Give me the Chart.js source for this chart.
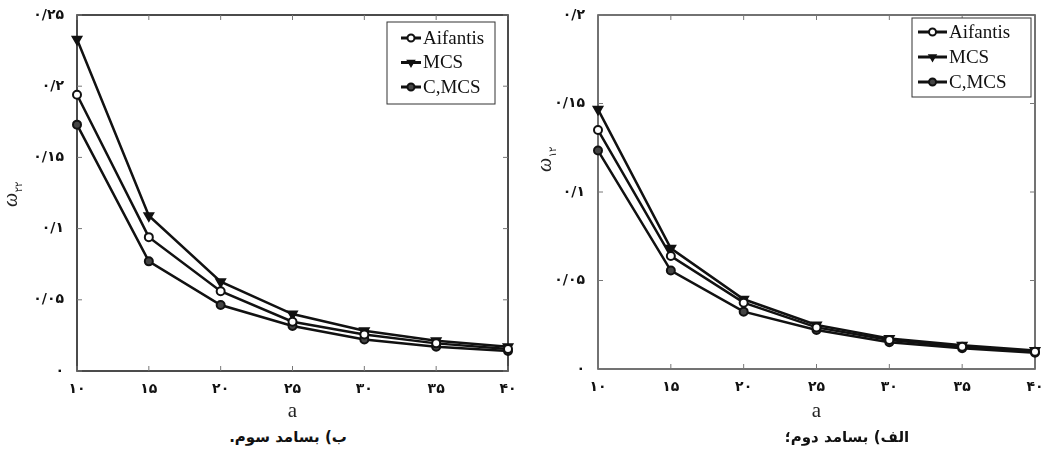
<!DOCTYPE html>
<html>
<head>
<meta charset="utf-8">
<script src="https://cdn.jsdelivr.net/npm/chart.js@4.4.0/dist/chart.umd.min.js"></script>
<style>
body { margin: 0; background: #fff; width: 1064px; height: 453px; position: relative; overflow: hidden; }
.box { position: absolute; top: 0; height: 425px; }
.cap { position: absolute; top: 428px; width: 200px; text-align: center; direction: rtl;
       font: bold 15px 'DejaVu Sans', sans-serif; color: #111; }
</style>
</head>
<body>
<div class="box" style="left:0;width:540px"><canvas id="chart22"></canvas></div>
<div class="box" style="left:530px;width:534px"><canvas id="chart12"></canvas></div>
<div class="cap" style="left:188px">ب) بسامد سوم.</div>
<div class="cap" style="left:747px">الف) بسامد دوم؛</div>
<script>
// length a on the x axis
const aValues = [10, 15, 20, 25, 30, 35, 40];
const seriesNames = ['Aifantis', 'MCS', 'C,MCS'];

// third frequency, w22 (left)
const w22Aifantis = [0.194, 0.094, 0.056, 0.0346, 0.0257, 0.0194, 0.0155];
const w22MCS = [0.233, 0.109, 0.0627, 0.040, 0.0283, 0.0213, 0.0171];
const w22CMCS = [0.173, 0.077, 0.0463, 0.0316, 0.0222, 0.0171, 0.014];

// second frequency, w12 (right)
const w12Aifantis = [0.135, 0.0638, 0.0375, 0.0235, 0.0164, 0.0126, 0.0098];
const w12MCS = [0.1467, 0.0682, 0.0394, 0.0249, 0.0173, 0.0134, 0.0104];
const w12CMCS = [0.1234, 0.0556, 0.0324, 0.022, 0.0151, 0.0117, 0.0092];

const yMax22 = 0.25;
const yMax12 = 0.2;
const yStep = 0.05;
const xStep = 5;

const faDigits = '۰۱۲۳۴۵۶۷۸۹';
function fa(v) {
    return String(+v.toFixed(2)).replace(/\d/g, d => faDigits[d]).replace('.', '/');
}

const styles = [
    { pointStyle: 'circle', rotation: 0, fill: '#fff', radius: 4 },
    { pointStyle: 'triangle', rotation: 180, fill: '#111', radius: 5 },
    { pointStyle: 'circle', rotation: 0, fill: '#444', radius: 4 }
];

function makeSets(arrays) {
    return arrays.map((vals, i) => ({
        label: seriesNames[i],
        data: aValues.map((a, j) => ({ x: a, y: vals[j] })),
        borderColor: '#111',
        borderWidth: 2.5,
        pointStyle: styles[i].pointStyle,
        pointRotation: styles[i].rotation,
        pointRadius: styles[i].radius,
        pointBackgroundColor: styles[i].fill,
        pointBorderColor: '#111',
        pointBorderWidth: 2,
        tension: 0,
        clip: false
    }));
}

// frame + inward ticks
const framePlugin = {
    id: 'frame',
    beforeDatasetsDraw(chart, args, opts) {
        const { ctx, chartArea: ca, scales: { x, y } } = chart;
        ctx.save();
        ctx.strokeStyle = opts.color;
        ctx.lineWidth = 1.5;
        ctx.strokeRect(ca.left, ca.top, ca.right - ca.left, ca.bottom - ca.top);
        ctx.lineWidth = 1;
        ctx.strokeStyle = '#777';
        ctx.beginPath();
        y.ticks.forEach(t => {
            const py = y.getPixelForValue(t.value);
            ctx.moveTo(ca.left, py); ctx.lineTo(ca.left + 5, py);
            ctx.moveTo(ca.right, py); ctx.lineTo(ca.right - 5, py);
        });
        x.ticks.forEach(t => {
            const px = x.getPixelForValue(t.value);
            ctx.moveTo(px, ca.bottom); ctx.lineTo(px, ca.bottom - 5);
            ctx.moveTo(px, ca.top); ctx.lineTo(px, ca.top + 5);
        });
        ctx.stroke();
        ctx.restore();
    },
    afterDraw(chart, args, opts) {
        const { ctx, chartArea: ca } = chart;
        ctx.save();
        // y title: omega with persian subscript
        ctx.translate(opts.titleX, opts.titleY);
        ctx.rotate(-Math.PI / 2);
        ctx.fillStyle = '#222';
        ctx.textAlign = 'center';
        ctx.textBaseline = 'middle';
        ctx.font = 'italic 20px "Liberation Serif"';
        ctx.fillText('ω', 0, 0);
        ctx.font = '10px "DejaVu Sans"';
        ctx.fillText(opts.sub, 13, 7);
        ctx.restore();

        // legend box
        const lg = opts.legend;
        const bx = ca.right - lg.right - lg.w;
        const by = ca.top + lg.top;
        ctx.save();
        ctx.fillStyle = '#fff';
        ctx.fillRect(bx, by, lg.w, lg.h);
        ctx.strokeStyle = '#333';
        ctx.lineWidth = 1;
        ctx.strokeRect(bx, by, lg.w, lg.h);
        chart.data.datasets.forEach((ds, i) => {
            const ry = by + lg.first + i * lg.gap;
            const lx = bx + lg.pad;
            ctx.strokeStyle = '#111';
            ctx.lineWidth = 3;
            ctx.beginPath();
            ctx.moveTo(lx, ry); ctx.lineTo(lx + lg.len, ry);
            ctx.stroke();
            ctx.fillStyle = styles[i].fill;
            ctx.lineWidth = 2;
            Chart.helpers.drawPoint(ctx, {
                pointStyle: styles[i].pointStyle, rotation: styles[i].rotation,
                radius: 3.5, borderWidth: 2
            }, lx + lg.len / 2, ry);
            ctx.fillStyle = '#111';
            ctx.font = lg.font + 'px "Liberation Serif"';
            ctx.textAlign = 'left';
            ctx.textBaseline = 'middle';
            ctx.fillText(ds.label, lx + lg.len + 2, ry + 1);
        });
        ctx.restore();
    }
};

function buildChart(id, arrays, yMax, yWidth, padRight, frameOpts) {
    const ctx = document.getElementById(id).getContext('2d');
    return new Chart(ctx, {
        type: 'line',
        data: { datasets: makeSets(arrays) },
        plugins: [framePlugin],
        options: {
            responsive: true,
            maintainAspectRatio: false,
            animation: false,
            layout: { padding: { top: 15, right: padRight, bottom: 1, left: 0 } },
            scales: {
                x: {
                    type: 'linear',
                    min: aValues[0],
                    max: aValues[aValues.length - 1],
                    grid: { display: false },
                    border: { display: false },
                    afterFit: s => { s.height = frameOpts.xHeight; },
                    ticks: {
                        stepSize: xStep,
                        padding: 2,
                        maxRotation: 0,
                        color: '#111',
                        font: { family: 'DejaVu Sans', size: 14, weight: 'bold' },
                        callback: v => fa(v)
                    },
                    title: {
                        display: true,
                        text: 'a',
                        color: '#222',
                        padding: 0,
                        font: { family: 'Liberation Serif', size: 21 }
                    }
                },
                y: {
                    min: 0,
                    max: yMax,
                    grid: { display: false },
                    border: { display: false },
                    afterFit: s => { s.width = yWidth; },
                    ticks: {
                        stepSize: yStep,
                        padding: 5,
                        color: '#111',
                        font: { family: 'DejaVu Sans', size: 14, weight: 'bold' },
                        callback: v => fa(v)
                    }
                }
            },
            plugins: {
                legend: { display: false },
                tooltip: { enabled: false },
                frame: frameOpts
            }
        }
    });
}

buildChart('chart22', [w22Aifantis, w22MCS, w22CMCS], yMax22, 77, 32, {
    color: '#111', titleX: 12, titleY: 200, sub: '۲۲', xHeight: 53,
    legend: { right: 13, top: 7, w: 108, h: 82, pad: 14, len: 20, first: 16, gap: 24.5, font: 19 }
});
buildChart('chart12', [w12Aifantis, w12MCS, w12CMCS], yMax12, 68, 29, {
    color: '#444', titleX: 16, titleY: 165, sub: '۱۲', xHeight: 55,
    legend: { right: 4, top: 3, w: 119, h: 79, pad: 6, len: 29, first: 14, gap: 25, font: 19 }
});
</script>
</body>
</html>
